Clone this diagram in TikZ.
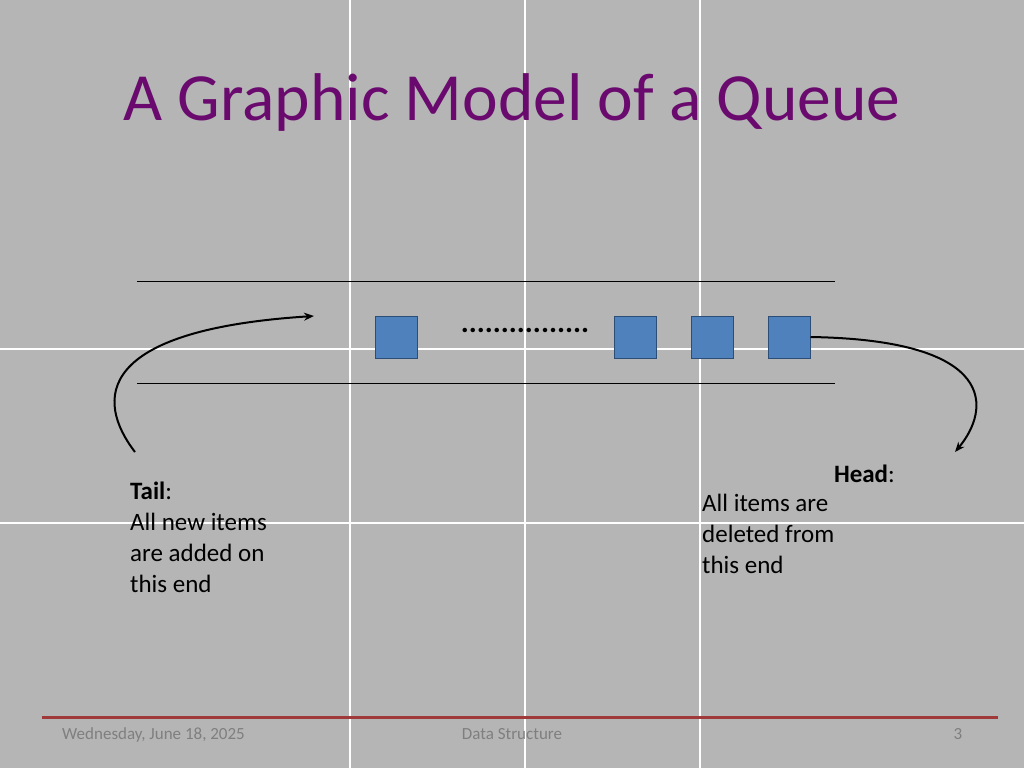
\documentclass[tikz,border=0pt]{standalone}
\usepackage{fontspec}
\setmainfont{Carlito}
\usetikzlibrary{arrows.meta}
\definecolor{bg}{HTML}{B5B5B5}
\definecolor{ttl}{HTML}{6A0A6E}
\definecolor{qblue}{HTML}{4F81BD}
\definecolor{qedge}{HTML}{2C4D75}
\definecolor{foot}{HTML}{A03A3A}
\definecolor{ftxt}{HTML}{7F7F7F}
\tikzset{
  item/.style={draw=qedge,fill=qblue,line width=1pt,minimum width=42pt,minimum height=42pt,inner sep=0pt},
  body/.style={font=\fontsize{25}{31}\selectfont,inner sep=0pt},
  foottext/.style={font=\fontsize{17}{18}\selectfont,text=ftxt,inner sep=0pt},
  curve/.style={line width=2pt,-{Stealth[length=10pt,width=8pt]}}
}
\begin{document}
\begin{tikzpicture}[x=1pt,y=-1pt]
\fill[bg] (0,0) rectangle (1024,768);
\useasboundingbox (0,0) rectangle (1024,768);
\foreach \x in {350,525,700} \draw[white,line width=1.2pt] (\x,0) -- (\x,768);
\foreach \y in {349,523} \draw[white,line width=1.2pt] (0,\y) -- (1024,\y);
\node[text=ttl,font=\fontsize{67.5}{76}\selectfont,inner sep=0pt] (title) at (512,103) {A Graphic Model of a Queue};
\coordinate (l1a) at (137,281); \coordinate (l1b) at (835,281);
\coordinate (l2a) at (137,383); \coordinate (l2b) at (835,383);
\draw[line width=0.8pt] (l1a) -- (l1b);
\draw[line width=0.8pt] (l2a) -- (l2b);
\node[item] (b1) at (396,337) {};
\node[item] (b2) at (635,337) {};
\node[item] (b3) at (712,337) {};
\node[item] (b4) at (789,337) {};
\node[font=\fontsize{30}{30}\selectfont\bfseries,inner sep=0pt] (dots) at (525,330) {................};
\coordinate (ls) at (135,452);
\coordinate (le) at (314,316);
\draw[curve] (ls) .. controls (95,400) and (95,330) .. (le);
\coordinate (re) at (955,452);
\draw[curve] (b4.east) .. controls (1000,340) and (990,410) .. (re);
\node[body,align=left,anchor=north west] (tail) at (130,482) {\textbf{Tail}:\\All new items\\are added on\\this end};
\node[body,anchor=north east] (headl) at (895,465) {\textbf{Head}:};
\node[body,align=left,anchor=north west] (head) at (702,494) {All items are\\deleted from\\this end};
\coordinate (fa) at (42,717); \coordinate (fb) at (998,717);
\draw[foot,line width=3pt] (fa) -- (fb);
\node[foottext,anchor=base west] (date) at (62,739) {Wednesday, June 18, 2025};
\node[foottext,anchor=base] (ds) at (512,739) {Data Structure};
\node[foottext,anchor=base] (pg) at (958,739) {3};
\end{tikzpicture}
\end{document}
